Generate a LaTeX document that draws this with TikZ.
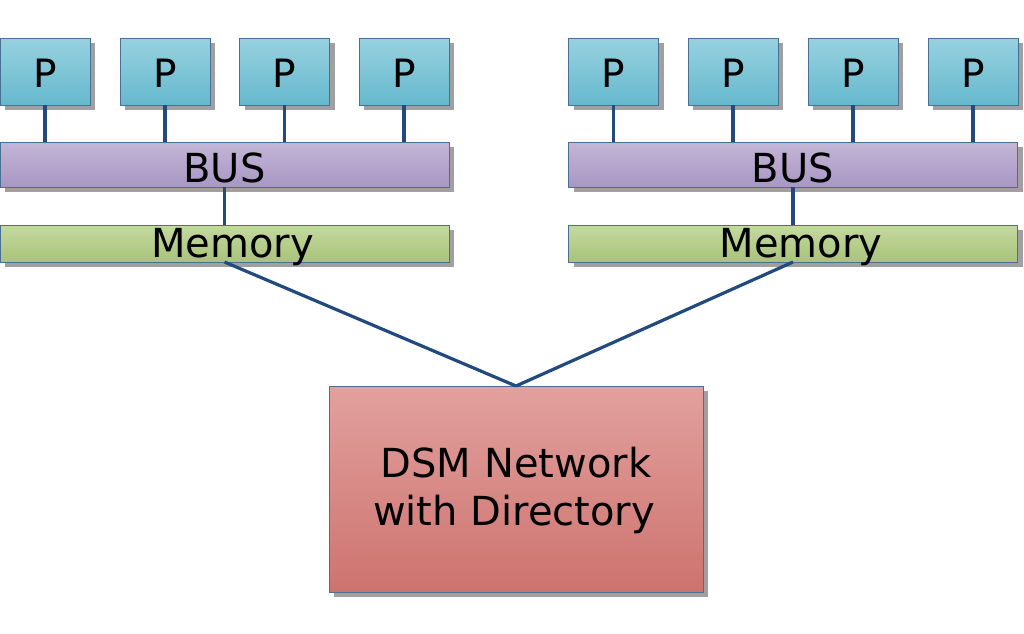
\documentclass[tikz,border=0pt]{standalone}
\usepackage{fontspec}
\setmainfont{DejaVu Sans}
\definecolor{pTop}{HTML}{97D1E0}
\definecolor{pBot}{HTML}{66B9CD}
\definecolor{bTop}{HTML}{C4B6D6}
\definecolor{bBot}{HTML}{A896C4}
\definecolor{mTop}{HTML}{C6D9A0}
\definecolor{mBot}{HTML}{A7C379}
\definecolor{dTop}{HTML}{E2A19E}
\definecolor{dBot}{HTML}{CD736F}
\definecolor{edge}{HTML}{4A6F95}
\definecolor{wire}{HTML}{224A7C}
\definecolor{shade}{HTML}{A0A0A0}
\begin{document}
\begin{tikzpicture}[x=1pt,y=-1pt,
  box/.style={draw=edge,line width=0.8pt,rectangle,inner sep=0pt,outer sep=0pt,
    preaction={fill=shade,transform canvas={xshift=5pt,yshift=-5pt}}},
  pbox/.style={box,top color=pTop,bottom color=pBot,minimum width=90pt,minimum height=67pt},
  busbox/.style={box,top color=bTop,bottom color=bBot,minimum width=449pt,minimum height=45pt},
  membox/.style={box,top color=mTop,bottom color=mBot,minimum width=449pt,minimum height=37pt},
  dsmbox/.style={box,top color=dTop,bottom color=dBot,minimum width=374pt,minimum height=206pt},
  lbl/.style={font=\fontsize{39}{46}\selectfont,inner sep=0pt,anchor=base},
  big/.style={lbl,font=\fontsize{40}{46}\selectfont},
  wirestyle/.style={draw=wire,line width=3.2pt}]
\useasboundingbox (0,0) rectangle (1024,633);
% left group
\foreach \i/\x in {1/45,2/165,3/284.5,4/404}{
  \node[pbox] (lp\i) at (\x,71.5) {};
}
\node[busbox] (lbus) at (224.5,164.5) {};
\node[membox] (lmem) at (224.5,243.5) {};
% right group
\foreach \i/\x in {1/613.5,2/733,3/853,4/973}{
  \node[pbox] (rp\i) at (\x,71.5) {};
}
\node[busbox] (rbus) at (793,164.5) {};
\node[membox] (rmem) at (793,243.5) {};
% DSM
\node[dsmbox] (dsm) at (516,489) {};
% wires
\foreach \i in {1,2,3,4}{
  \draw[wirestyle] (lp\i.south) -- (lp\i.south |- lbus.north);
  \draw[wirestyle] (rp\i.south) -- (rp\i.south |- rbus.north);
}
\draw[wirestyle] (lbus.south) -- (lmem.north);
\draw[wirestyle] (rbus.south) -- (rmem.north);
\draw[wirestyle] (lmem.south) -- (dsm.north);
\draw[wirestyle] (rmem.south) -- (dsm.north);
% labels
\foreach \i in {1,...,4}{
  \node[lbl] (lpt\i) at ([yshift=-15.5pt]lp\i.center) {P};
  \node[lbl] (rpt\i) at ([yshift=-15.5pt]rp\i.center) {P};
}
\node[big] (lbust) at ([yshift=-17.5pt]lbus.center) {BUS};
\node[big] (rbust) at ([yshift=-17.5pt]rbus.center) {BUS};
\node[big] (lmemt) at ([xshift=8pt,yshift=-13.5pt]lmem.center) {Memory};
\node[big] (rmemt) at ([xshift=8pt,yshift=-13.5pt]rmem.center) {Memory};
\node[lbl,font=\fontsize{40}{48}\selectfont] (dsmt1) at (516,477) {DSM Network};
\node[lbl,font=\fontsize{40}{48}\selectfont] (dsmt2) at (514,525) {with Directory};
\end{tikzpicture}
\end{document}
